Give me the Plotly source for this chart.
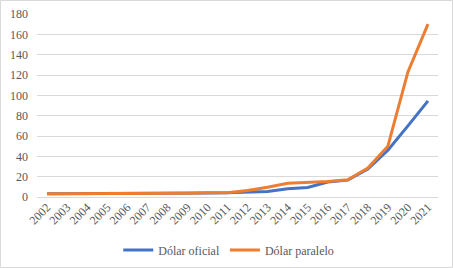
import plotly.graph_objects as go

years = [str(y) for y in range(2002, 2022)]
oficial = [3.3, 3.3, 3.3, 3.3, 3.3, 3.3, 3.3, 3.7, 4.0, 4.1, 4.6, 5.5, 8.1, 9.3, 14.8, 16.6, 27.5, 46, 70, 94.5]
paralelo = [3.3, 3.3, 3.3, 3.3, 3.3, 3.3, 3.3, 3.8, 4.1, 4.3, 6.4, 9.5, 13.5, 14.3, 15.3, 17.0, 28.5, 50, 123, 170]

W, H = 453, 268
ml, mr, mt, mb = 37, 15, 14, 71
FONT = "Liberation Serif, Times New Roman, serif"

fig = go.Figure()
fig.add_trace(go.Scatter(x=years, y=oficial, mode="lines", name="Dólar oficial",
                         line=dict(color="#4472C4", width=3)))
fig.add_trace(go.Scatter(x=years, y=paralelo, mode="lines", name="Dólar paralelo",
                         line=dict(color="#ED7D31", width=3)))

pw = W - ml - mr
ph = H - mt - mb
fig.add_shape(type="rect", xref="paper", yref="paper",
              x0=(0.5 - ml) / pw, x1=(W - 0.5 - ml) / pw,
              y0=-(H - 0.5 - mt - ph) / ph, y1=(ph + mt - 0.5) / ph,
              line=dict(color="#D9D9D9", width=1), layer="below")

fig.update_layout(
    width=W, height=H,
    margin=dict(l=ml, r=mr, t=mt, b=mb, autoexpand=False),
    paper_bgcolor="white", plot_bgcolor="white",
    font=dict(family=FONT, size=11, color="#595959"),
    showlegend=True,
    legend=dict(orientation="h", xref="container", yref="container",
                x=0.505, xanchor="center", y=(H - 250) / H, yanchor="middle",
                font=dict(family=FONT, size=12, color="#595959"), itemwidth=30, tracegroupgap=0),
    xaxis=dict(type="category", tickangle=-45, showgrid=False, showline=False, automargin=False,
               ticks="", tickfont=dict(family=FONT, size=12), range=[-0.5, 19.5]),
    yaxis=dict(range=[0, 180], dtick=20, showgrid=True, gridcolor="#D9D9D9", gridwidth=1,
               zeroline=True, zerolinecolor="#D9D9D9", zerolinewidth=1, automargin=False,
               showline=False, ticks="", tickfont=dict(family=FONT, size=12), ticklabelstandoff=8),
)

fig.write_html("out.html", config={"displayModeBar": False},
               post_script="document.body.style.margin='0';document.body.style.padding='0';")
